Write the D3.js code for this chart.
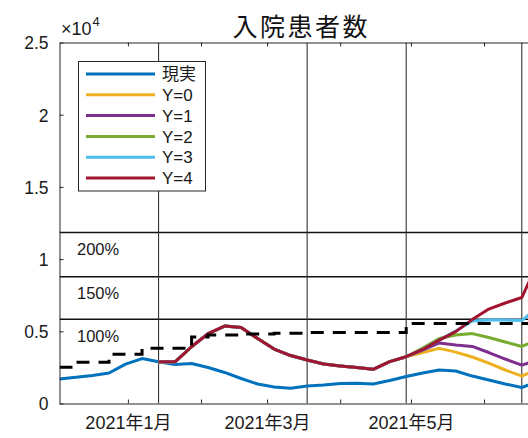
<!DOCTYPE html>
<html>
<head>
<meta charset="utf-8">
<script src="https://cdn.jsdelivr.net/npm/d3@7"></script>
<style>
  body { margin: 0; background: #fff; }
  svg { display: block; font-family: "Liberation Sans", "Noto Sans CJK JP", sans-serif; }
</style>
</head>
<body>
<script>
// weekly dates (Thursdays)
var dates = ["2020-12-03","2020-12-10","2020-12-17","2020-12-24","2020-12-31",
  "2021-01-07","2021-01-14","2021-01-21","2021-01-28",
  "2021-02-04","2021-02-11","2021-02-18","2021-02-25",
  "2021-03-04","2021-03-11","2021-03-18","2021-03-25",
  "2021-04-01","2021-04-08","2021-04-15","2021-04-22","2021-04-29",
  "2021-05-06","2021-05-13","2021-05-20","2021-05-27",
  "2021-06-03","2021-06-10","2021-06-17","2021-06-24"];

// 現実 (actual inpatients)
var real = [1700,1810,1940,2110,2730, 3110,2890,2700,2770, 2490,2150,1730,1350,
  1140,1050,1210,1280, 1380,1400,1350,1590,1870, 2110,2320,2250,1900, 1630,1350,1110,1540];

// bed capacity (dashed stairs)
var capacity = [2505,2850,2850,3405,3405, 3820,3820,3820,4600, 4740,4740,4810,4810,
  4860,4860,4910,4910, 4910,4910,4910,4910,5540, 5540,5540,5540,5540, 5540,5540,5540,5540];

// scenario path shared by all Y, 2021-01-14 .. 2021-04-29
var scenarioBase = [2890,2890,3930,4840,5360,5260,4500,3770,3320,3010,2730,2600,2490,2370,2900,3240];
// scenario tails, 2021-05-06 .. 2021-06-24
var y0 = [3530,3820,3560,3220,2800,2320,1900,2390];
var y1 = [3700,4190,4050,3950,3530,3080,2660,3010];
var y2 = [3840,4500,4740,4840,4570,4260,3950,4420];
var y3 = [3740,4390,5020,5710,5780,5780,5740,6700];
var y4 = [3740,4390,4980,5810,6540,6960,7340,9790];

var seriesNames = ["現実","Y=0","Y=1","Y=2","Y=3","Y=4"];
var seriesColors = ["#0072BD","#EDB120","#7E2F8E","#77AC30","#4DBEEE","#A2142F"];

// reference levels
var levelLabels = ["100%","150%","200%"];
var levelValues = [5830, 8780, 11840];

// vertical marker dates
var markerDates = ["2021-01-14","2021-03-18","2021-04-29","2021-06-17"];

var yTicks = [0, 5000, 10000, 15000, 20000, 25000];
var monthTicks = ["2021-01-01","2021-02-01","2021-03-01","2021-04-01","2021-05-01","2021-06-01"];
var monthLabels = {"2021-01-01": "2021年1月", "2021-03-01": "2021年3月", "2021-05-01": "2021年5月"};

(function() {
    var width = 528, height = 438;
    var pL = 59.5, pR = 543, pT = 42.5, pB = 403.5;
    var axisColor = "#262626";

    var parse = d3.timeParse("%Y-%m-%d");
    var fmt = d3.timeFormat("%Y-%m-%d");
    var dd = dates.map(parse);

    var x = d3.scaleTime()
        .domain([parse("2020-12-03"), parse("2021-06-26")])
        .range([pL, pR]);
    var y = d3.scaleLinear()
        .domain([0, 25000])
        .range([pB, pT]);

    var svg = d3.select("body").append("svg")
        .attr("width", width)
        .attr("height", height);

    svg.append("rect").attr("width", width).attr("height", height).attr("fill", "#fff");

    svg.append("defs").append("clipPath").attr("id", "plot")
      .append("rect").attr("x", pL).attr("y", pT).attr("width", pR - pL).attr("height", pB - pT);

    var plot = svg.append("g").attr("clip-path", "url(#plot)");

    // horizontal reference lines + labels
    plot.selectAll("line.level")
        .data(levelValues)
        .enter().append("line")
        .attr("x1", pL).attr("x2", pR)
        .attr("y1", d => y(d)).attr("y2", d => y(d))
        .attr("stroke", "#111")
        .attr("stroke-width", 1.5);

    svg.selectAll("text.level")
        .data(levelValues)
        .enter().append("text")
        .attr("x", pL + 17.5)
        .attr("y", d => y(d) + 22.5)
        .attr("font-size", "16.5px")
        .attr("fill", "#1a1a1a")
        .text((d, i) => levelLabels[i]);

    // vertical marker lines
    plot.selectAll("line.marker")
        .data(markerDates.map(parse))
        .enter().append("line")
        .attr("x1", d => x(d)).attr("x2", d => x(d))
        .attr("y1", pT).attr("y2", pB)
        .attr("stroke", "#333")
        .attr("stroke-width", 1.1);

    var line = d3.line()
        .x(d => x(d[0]))
        .y(d => y(d[1]));

    // scenario series: shared base + tail
    var tails = [y0, y1, y2, y3, y4];
    var scenDates = dd.slice(6);
    var series = [d3.zip(dd, real)];
    tails.forEach(function(t) {
        series.push(d3.zip(scenDates, scenarioBase.concat(t)));
    });

    plot.selectAll("path.series")
        .data(series)
        .enter().append("path")
        .attr("fill", "none")
        .attr("stroke", (d, i) => seriesColors[i])
        .attr("stroke-width", 3)
        .attr("stroke-linejoin", "round")
        .attr("d", line);

    // capacity stairs
    plot.append("path")
        .datum(d3.zip(dd, capacity))
        .attr("fill", "none")
        .attr("stroke", "#000")
        .attr("stroke-width", 3)
        .attr("stroke-dasharray", "13,9")
        .attr("d", line.curve(d3.curveStepAfter));

    // axes (MATLAB style, ticks inward)
    var xBottom = svg.append("g")
        .attr("transform", `translate(0,${pB})`)
        .call(d3.axisBottom(x)
            .tickValues(monthTicks.map(parse))
            .tickSizeInner(-4).tickSizeOuter(0)
            .tickPadding(12)
            .tickFormat(d => monthLabels[fmt(d)] || ""));

    var xTop = svg.append("g")
        .attr("transform", `translate(0,${pT})`)
        .call(d3.axisTop(x)
            .tickValues(monthTicks.map(parse))
            .tickSizeInner(-4).tickSizeOuter(0)
            .tickFormat(""));

    var yLeft = svg.append("g")
        .attr("transform", `translate(${pL},0)`)
        .call(d3.axisLeft(y)
            .tickValues(yTicks)
            .tickSizeInner(-4).tickSizeOuter(0)
            .tickPadding(11)
            .tickFormat(d => d / 10000));

    [xBottom, xTop, yLeft].forEach(function(g) {
        g.attr("font-family", null).attr("font-size", null);
        g.select(".domain").attr("stroke", axisColor).attr("stroke-width", 1);
        g.selectAll(".tick line").attr("stroke", axisColor);
        g.selectAll("text").attr("fill", "#1a1a1a");
    });
    xBottom.selectAll("text").attr("font-size", "18px").attr("dy", "0.75em");
    yLeft.selectAll("text").attr("font-size", "17.5px").attr("dy", "0.36em");

    // exponent label
    var expo = svg.append("text")
        .attr("x", 61)
        .attr("y", 35)
        .attr("font-size", "18px")
        .attr("fill", "#1a1a1a");
    expo.append("tspan").text("×10");
    expo.append("tspan").attr("font-size", "13px").attr("dy", -9).attr("dx", 1).text("4");

    // title
    svg.append("text")
        .attr("x", (pL + pR) / 2)
        .attr("y", 36)
        .attr("text-anchor", "middle")
        .attr("font-family", "Noto Sans CJK JP")
        .attr("font-size", "25px")
        .attr("letter-spacing", "2.5px")
        .attr("fill", "#111")
        .text("入院患者数");

    // legend
    var legend = svg.append("g");
    legend.append("rect")
        .attr("x", 78.5).attr("y", 61.5)
        .attr("width", 127).attr("height", 129.5)
        .attr("fill", "#fff")
        .attr("stroke", axisColor)
        .attr("stroke-width", 1);

    var item = legend.selectAll("g.item")
        .data(seriesNames)
        .enter().append("g")
        .attr("transform", (d, i) => `translate(0,${74 + i * 20.8})`);

    item.append("line")
        .attr("x1", 86).attr("x2", 155)
        .attr("stroke", (d, i) => seriesColors[i])
        .attr("stroke-width", 3);

    item.append("text")
        .attr("x", 162)
        .attr("dy", "0.36em")
        .attr("font-size", "17px")
        .attr("fill", "#1a1a1a")
        .text(d => d);
})();
</script>
</body>
</html>
